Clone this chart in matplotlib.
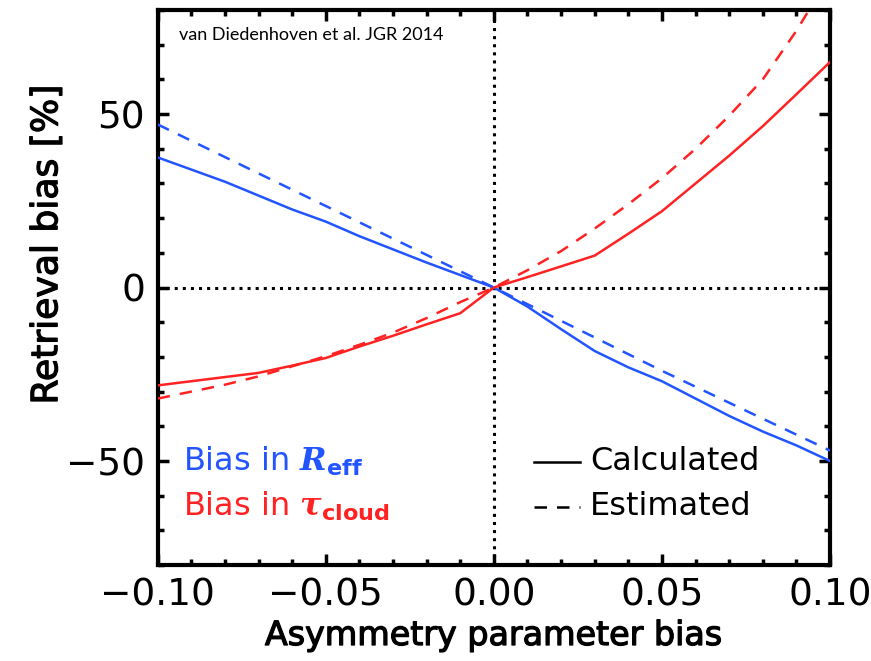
import matplotlib
matplotlib.use('Agg')
import matplotlib.pyplot as plt
import matplotlib.patheffects as pe
from matplotlib.ticker import MultipleLocator, FuncFormatter

plt.rcParams['font.family'] = ['DejaVu Sans']
plt.rcParams['mathtext.fontset'] = 'custom'
plt.rcParams['mathtext.rm'] = 'DejaVu Sans:bold'
plt.rcParams['mathtext.bf'] = 'DejaVu Sans:bold'
plt.rcParams['mathtext.it'] = 'DejaVu Serif:italic:bold'

# asymmetry parameter bias
g_bias = [-0.10, -0.09, -0.08, -0.07, -0.06, -0.05, -0.04, -0.03, -0.02, -0.01, 0.00,
          0.01, 0.02, 0.03, 0.04, 0.05, 0.06, 0.07, 0.08, 0.09, 0.10]

# retrieval bias [%]
reff_calc = [37.5, 34.0, 30.5, 26.5, 22.5, 19.0, 14.8, 11.0, 7.2, 3.6, 0.0,
             -5.5, -12.0, -18.3, -23.0, -27.0, -32.0, -37.0, -41.5, -45.5, -50.0]
reff_est = [47.0, 42.3, 37.6, 32.9, 28.2, 23.5, 18.8, 14.1, 9.4, 4.7, 0.0,
            -4.8, -9.6, -14.4, -19.2, -24.0, -28.6, -33.2, -37.8, -42.4, -47.0]
tau_calc = [-28.2, -27.0, -25.8, -24.6, -22.5, -20.3, -17.0, -13.9, -10.6, -7.4, 0.0,
            3.0, 6.1, 9.2, 15.5, 22.0, 30.0, 38.0, 46.5, 55.7, 65.0]
tau_est = [-32.0, -30.0, -28.0, -25.6, -22.7, -19.8, -16.5, -13.0, -8.8, -4.2, 0.0,
           5.0, 10.5, 17.0, 24.0, 31.5, 40.0, 49.5, 60.0, 74.0, 90.0]

blue = '#2255ff'
red = '#ff2222'
thick = [pe.withStroke(linewidth=0.9, foreground='black')]

fig = plt.figure(figsize=(8.71, 6.61), dpi=100)
ax = fig.add_axes([0.181, 0.145, 0.772, 0.840])

ax.axhline(0, color='black', linestyle=':', linewidth=2.2, zorder=1)
ax.axvline(0, color='black', linestyle=':', linewidth=2.2, zorder=1)

ax.plot(g_bias, reff_calc, color=blue, linewidth=1.8, zorder=3)
ax.plot(g_bias, reff_est, color=blue, linewidth=1.8, linestyle=(0, (5, 4)), zorder=3)
ax.plot(g_bias, tau_calc, color=red, linewidth=1.8, zorder=3)
ax.plot(g_bias, tau_est, color=red, linewidth=1.8, linestyle=(0, (5, 4)), zorder=3)

ax.set_xlim(-0.10, 0.10)
ax.set_ylim(-80, 80)
ax.xaxis.set_major_locator(MultipleLocator(0.05))
ax.xaxis.set_minor_locator(MultipleLocator(0.01))
ax.yaxis.set_major_locator(MultipleLocator(50))
ax.yaxis.set_minor_locator(MultipleLocator(10))
ax.xaxis.set_major_formatter(FuncFormatter(lambda v, p: ('%.2f' % v).replace('-', '\u2212')))
ax.yaxis.set_major_formatter(FuncFormatter(lambda v, p: ('%d' % round(v)).replace('-', '\u2212')))

ax.tick_params(which='both', direction='in', top=True, right=True, width=2.5)
ax.tick_params(which='major', length=8, labelsize=27, pad=9)
ax.tick_params(which='minor', length=4)
for s in ax.spines.values():
    s.set_linewidth(3)

ax.set_xlabel('Asymmetry parameter bias', fontsize=24, path_effects=thick)
ax.set_ylabel('Retrieval bias [%]', fontsize=26, path_effects=thick)
ax.xaxis.set_label_coords(0.5, -0.097)
ax.yaxis.set_label_coords(-0.139, 0.577)

ax.text(0.032, 0.955, 'van Diedenhoven et al. JGR 2014', transform=ax.transAxes,
        fontsize=13, family='Lato', va='center')

ax.text(0.037, 0.186, r'Bias in $R_{\mathrm{eff}}$', transform=ax.transAxes,
        fontsize=23, color=blue, va='center')
ax.text(0.037, 0.105, r'Bias in $\tau_{\mathrm{cloud}}$', transform=ax.transAxes,
        fontsize=23, color=red, va='center')

ax.plot([0.56, 0.628], [0.186, 0.186], color='black', linewidth=1.8, transform=ax.transAxes)
ax.plot([0.56, 0.628], [0.105, 0.105], color='black', linewidth=1.8,
        linestyle=(0, (5, 4)), transform=ax.transAxes)
ax.text(0.643, 0.186, 'Calculated', transform=ax.transAxes, fontsize=23, va='center')
ax.text(0.643, 0.105, 'Estimated', transform=ax.transAxes, fontsize=23, va='center')

fig.savefig('out.png', dpi=100)
